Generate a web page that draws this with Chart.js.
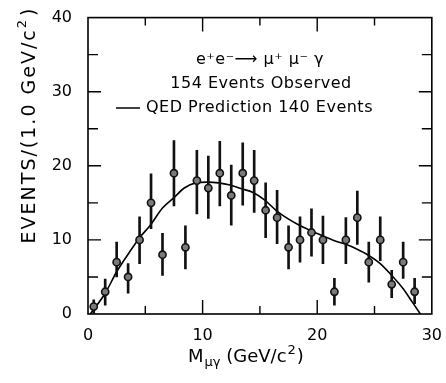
<!DOCTYPE html>
<html>
<head>
<meta charset="utf-8">
<script src="https://cdn.jsdelivr.net/npm/chart.js@4.4.1/dist/chart.umd.min.js"></script>
<style>
  html, body { margin: 0; padding: 0; background: #fff; }
  #wrap { width: 446px; height: 383px; }
</style>
</head>
<body>
<div id="wrap"><canvas id="mycanvas" width="446" height="383"></canvas></div>
<script>
// measured points (bin centres, GeV/c^2) with error bars
var massBins = [0.5, 1.5, 2.5, 3.5, 4.5, 5.5, 6.5, 7.5, 8.5, 9.5, 10.5, 11.5, 12.5, 13.5, 14.5,
                15.5, 16.5, 17.5, 18.5, 19.5, 20.5, 21.5, 22.5, 23.5, 24.5, 25.5, 26.5, 27.5, 28.5];
var events   = [1, 3, 7, 5, 10, 15, 8, 19, 9, 18, 17, 19, 16, 19, 18,
                14, 13, 9, 10, 11, 10, 3, 10, 13, 7, 10, 4, 7, 3];
var errLow   = [0.1, 1.2, 5.0, 2.8, 6.8, 11.5, 5.2, 14.6, 6.1, 13.5, 12.9, 14.6, 12.0, 14.7, 13.7,
                10.3, 9.5, 6.1, 7.0, 7.8, 6.8, 1.2, 6.8, 9.4, 4.3, 7.2, 2.2, 4.8, 1.4];
var errHigh  = [1.9, 4.7, 9.7, 6.8, 13.1, 18.9, 10.9, 23.4, 11.9, 22.1, 21.3, 23.3, 20.1, 23.1, 22.1,
                17.7, 16.7, 11.9, 13.1, 14.2, 13.2, 4.8, 13.0, 16.6, 9.7, 13.1, 5.9, 9.7, 4.8];

// QED prediction curve
var qedX = [0.2, 1.5, 2.5, 3.6, 4.5, 5.4, 6.5, 7.5, 8.4, 9.4, 10.4, 11.4, 12.4, 13.4, 14.4,
            15.4, 16.4, 17.4, 18.4, 19.5, 20.4, 21.5, 22.5, 23.4, 24.5, 25.5, 26.5, 27.5, 28.3, 29.0];
var qedY = [0, 2.8, 5.7, 8.3, 10.3, 11.9, 14.3, 15.7, 17.0, 17.7, 17.8, 17.7, 17.4, 16.9, 16.4,
            15.4, 14.0, 12.9, 12.0, 11.2, 10.6, 9.9, 9.4, 8.8, 7.9, 6.8, 5.2, 3.4, 1.6, 0];

var xTicks = [0, 10, 20, 30];
var yTicks = [0, 10, 20, 30, 40];

var FONT = "'DejaVu Sans', sans-serif";
Chart.defaults.font.family = FONT;
Chart.defaults.color = '#000';

var points = [], bars = [], curve = [];
for (var i in massBins) {
	points.push({x: massBins[i], y: events[i]});
	bars.push({x: massBins[i], y: [errLow[i], errHigh[i]]});
}
for (var j in qedX) {
	curve.push({x: qedX[j], y: qedY[j]});
}

// frame, inward ticks, legend text and axis titles
var decor = {
	id: 'decor',
	afterDraw: function(chart) {
		var c = chart.ctx, a = chart.chartArea;
		var xs = chart.scales.x, ys = chart.scales.y;
		c.save();
		c.strokeStyle = '#000';
		c.lineWidth = 1.6;
		c.strokeRect(a.left, a.top, a.right - a.left, a.bottom - a.top);

		c.lineWidth = 1.4;
		c.beginPath();
		for (var v = 5; v < 30; v += 5) {
			var px = xs.getPixelForValue(v);
			var len = (v % 10 == 0) ? 14 : 8;
			c.moveTo(px, a.bottom); c.lineTo(px, a.bottom - len);
			c.moveTo(px, a.top); c.lineTo(px, a.top + len);
		}
		for (var w = 5; w < 40; w += 5) {
			var py = ys.getPixelForValue(w);
			var ln = (w % 10 == 0) ? 13 : 10;
			c.moveTo(a.left, py); c.lineTo(a.left + ln, py);
			c.moveTo(a.right, py); c.lineTo(a.right - ln, py);
		}
		c.stroke();

		// legend block
		c.fillStyle = '#000';
		c.textBaseline = 'middle';
		c.font = '16px ' + FONT;
		c.letterSpacing = '0.5px';
		c.textAlign = 'center';
		c.fillText('e\u207Ae\u207B\u27F6 \u03BC\u207A \u03BC\u207B \u03B3', 260, 60);
		c.fillText('154 Events Observed', 261, 84);
		c.textAlign = 'left';
		c.fillText('QED Prediction 140 Events', 146, 108);
		c.letterSpacing = '0px';
		c.lineWidth = 1.5;
		c.beginPath();
		c.moveTo(116, 108); c.lineTo(140, 108);
		c.stroke();

		// x axis title  M_{μγ} (GeV/c^2)
		c.textBaseline = 'alphabetic';
		c.textAlign = 'left';
		var bx = 188, by = 362;
		c.font = '18px ' + FONT;
		c.fillText('M', bx, by); bx += c.measureText('M').width + 1;
		c.font = '13px ' + FONT;
		c.fillText('\u03BC\u03B3', bx, by + 4); bx += c.measureText('\u03BC\u03B3').width;
		c.font = '18px ' + FONT;
		c.fillText(' (GeV/c', bx, by); bx += c.measureText(' (GeV/c').width + 1;
		c.font = '13px ' + FONT;
		c.fillText('2', bx, by - 8); bx += c.measureText('2').width + 1;
		c.font = '18px ' + FONT;
		c.fillText(')', bx, by);

		// y axis title
		c.translate(35, 125);
		c.rotate(-Math.PI / 2);
		c.font = '19px ' + FONT;
		var main = 'EVENTS/(1.0 GeV/c';
		c.letterSpacing = '2px';
		var mw = c.measureText(main).width;
		c.font = '13px ' + FONT;
		var sw = c.measureText('2').width;
		c.font = '19px ' + FONT;
		var cw = c.measureText(')').width;
		var sx = -(mw + sw + cw + 2) / 2;
		c.fillText(main, sx, 0);
		c.font = '13px ' + FONT;
		c.fillText('2', sx + mw, -9);
		c.font = '19px ' + FONT;
		c.fillText(')', sx + mw + sw + 2, 0);
		c.restore();
	}
};

var ctx = document.getElementById('mycanvas');
var chart = new Chart(ctx, {
	type: 'bar',
	data: {
		datasets: [
			{
				type: 'scatter',
				label: 'Observed',
				data: points,
				pointRadius: 3.6,
				pointBackgroundColor: '#7a7a7a',
				pointBorderColor: '#111',
				pointBorderWidth: 1.6,
				order: 0
			},
			{
				type: 'bar',
				label: 'Error',
				data: bars,
				backgroundColor: '#111',
				barThickness: 2,
				borderWidth: 0,
				order: 1
			},
			{
				type: 'line',
				label: 'QED Prediction',
				data: curve,
				borderColor: '#000',
				borderWidth: 1.6,
				pointRadius: 0,
				fill: false,
				cubicInterpolationMode: 'monotone',
				order: 2
			}
		]
	},
	options: {
		responsive: false,
		animation: false,
		events: [],
		layout: { padding: { top: 15, right: 11, left: 0, bottom: 0 } },
		plugins: { legend: { display: false }, tooltip: { enabled: false } },
		scales: {
			x: {
				type: 'linear',
				min: 0, max: 30,
				offset: false,
				grid: { display: false, offset: false },
				border: { display: false },
				afterBuildTicks: function(s) { s.ticks = xTicks.map(function(v){ return {value: v}; }); },
				ticks: { font: { size: 16 }, padding: 4, maxRotation: 0, autoSkip: false },
				afterFit: function(s) { s.height = 69; }
			},
			y: {
				min: 0, max: 40,
				grid: { display: false },
				border: { display: false },
				afterBuildTicks: function(s) { s.ticks = yTicks.map(function(v){ return {value: v}; }); },
				ticks: { font: { size: 16 }, padding: 8 },
				afterFit: function(s) { s.width = 88; }
			}
		}
	},
	plugins: [decor]
});
</script>
</body>
</html>
